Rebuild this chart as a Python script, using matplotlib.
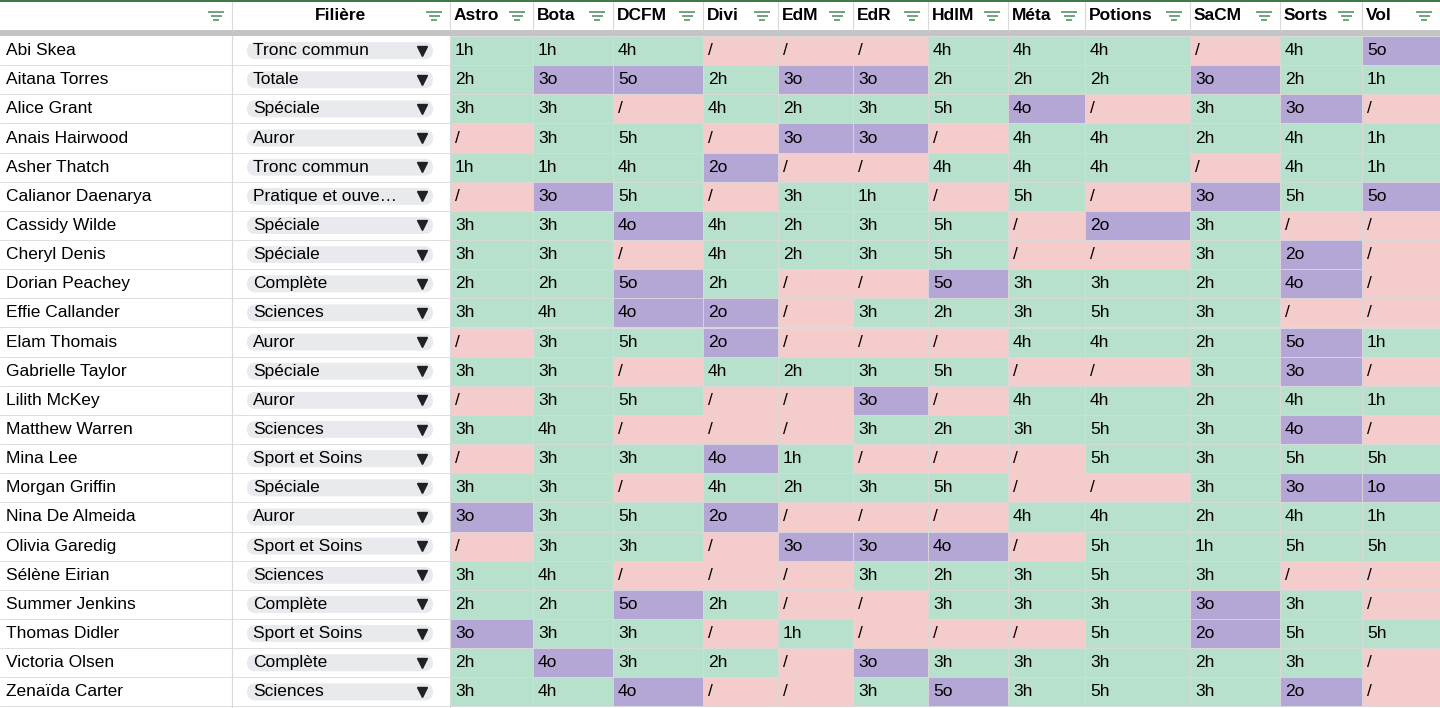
import matplotlib
matplotlib.use("Agg")
import matplotlib.pyplot as plt
from matplotlib.patches import Rectangle, FancyBboxPatch

names = ["Abi Skea","Aitana Torres","Alice Grant","Anais Hairwood","Asher Thatch","Calianor Daenarya",
         "Cassidy Wilde","Cheryl Denis","Dorian Peachey","Effie Callander","Elam Thomais","Gabrielle Taylor",
         "Lilith McKey","Matthew Warren","Mina Lee","Morgan Griffin","Nina De Almeida","Olivia Garedig",
         "Sélène Eirian","Summer Jenkins","Thomas Didler","Victoria Olsen","Zenaïda Carter"]
filieres = ["Tronc commun","Totale","Spéciale","Auror","Tronc commun","Pratique et ouve…","Spéciale","Spéciale",
            "Complète","Sciences","Auror","Spéciale","Auror","Sciences","Sport et Soins","Spéciale","Auror",
            "Sport et Soins","Sciences","Complète","Sport et Soins","Complète","Sciences"]
subjects = ["Astro","Bota","DCFM","Divi","EdM","EdR","HdlM","Méta","Potions","SaCM","Sorts","Vol"]
astro = ["1h","2h","3h","/","1h","/","3h","3h","2h","3h","/","3h","/","3h","/","3h","3o","/","3h","2h","3o","2h","3h"]
bota = ["1h","3o","3h","3h","1h","3o","3h","3h","2h","4h","3h","3h","3h","4h","3h","3h","3h","3h","4h","2h","3h","4o","4h"]
dcfm = ["4h","5o","/","5h","4h","5h","4o","/","5o","4o","5h","/","5h","/","3h","/","5h","3h","/","5o","3h","3h","4o"]
divi = ["/","2h","4h","/","2o","/","4h","4h","2h","2o","2o","4h","/","/","4o","4h","2o","/","/","2h","/","2h","/"]
edm = ["/","3o","2h","3o","/","3h","2h","2h","/","/","/","2h","/","/","1h","2h","/","3o","/","/","1h","/","/"]
edr = ["/","3o","3h","3o","/","1h","3h","3h","/","3h","/","3h","3o","3h","/","3h","/","3o","3h","/","/","3o","3h"]
hdlm = ["4h","2h","5h","/","4h","/","5h","5h","5o","2h","/","5h","/","2h","/","5h","/","4o","2h","3h","/","3h","5o"]
meta = ["4h","2h","4o","4h","4h","5h","/","/","3h","3h","4h","/","4h","3h","/","/","4h","/","3h","3h","/","3h","3h"]
potions = ["4h","2h","/","4h","4h","/","2o","/","3h","5h","4h","/","4h","5h","5h","/","4h","5h","5h","3h","5h","3h","5h"]
sacm = ["/","3o","3h","2h","/","3o","3h","3h","2h","3h","2h","3h","2h","3h","3h","3h","2h","1h","3h","3o","2o","2h","3h"]
sorts = ["4h","2h","3o","4h","4h","5h","/","2o","4o","/","5o","3o","4h","4o","5h","3o","4h","5h","/","3h","5h","3h","2o"]
vol = ["5o","1h","/","1h","1h","5o","/","/","/","/","1h","/","1h","/","5h","1o","1h","5h","/","/","5h","/","/"]
grades = [astro, bota, dcfm, divi, edm, edr, hdlm, meta, potions, sacm, sorts, vol]

col_edges = [0, 232, 450, 533, 613, 703, 778, 853, 928, 1008, 1085, 1190, 1280, 1362, 1440]
header_h = 30
top = 36
row_h = 29.15

GREEN, PINK, PURPLE = "#b7e1cd", "#f4cccc", "#b4a7d6"
GRID = "#d9d9d9"
FONT = ["Liberation Sans", "DejaVu Sans"]

fig = plt.figure(figsize=(14.4, 7.08), dpi=100)
ax = fig.add_axes([0, 0, 1, 1])
ax.set_xlim(0, 1440)
ax.set_ylim(708, 0)
ax.axis("off")

def filt(xr, yc):
    c = "#4a8a5c"
    for w, dy in [(8, -4), (5.5, 0), (3, 4)]:
        ax.plot([xr - w, xr + w], [yc + dy, yc + dy], color=c, lw=1.1, solid_capstyle="butt")

# header
ax.add_patch(Rectangle((0, 0), 1440, 2, color="#3c7a4a", lw=0))
headers = ["", "Filière"] + subjects
for i, h in enumerate(headers):
    x0, x1 = col_edges[i], col_edges[i + 1]
    if i == 1:
        ax.text((x0 + x1) / 2, 16, h, ha="center", va="center", fontsize=12.5, fontweight="bold", family=FONT)
    elif h:
        ax.text(x0 + 4, 16, h, ha="left", va="center", fontsize=12.5, fontweight="bold", family=FONT)
    filt(x1 - 16, 16)
    ax.plot([x1, x1], [2, header_h], color=GRID, lw=0.8)
ax.add_patch(Rectangle((0, header_h), 1440, top - header_h, color="#c4c4c4", lw=0))

for r, name in enumerate(names):
    y0 = top + r * row_h
    yc = y0 + row_h / 2
    ax.text(6, yc, name, ha="left", va="center", fontsize=12.5, family=FONT)
    ax.add_patch(FancyBboxPatch((247, yc - 8.5), 186, 17, boxstyle="round,pad=0,rounding_size=8.5",
                                fc="#e8eaed", ec="none"))
    ax.text(253, yc, filieres[r], ha="left", va="center", fontsize=12.5, family=FONT)
    ax.plot([422], [yc], marker="v", color="#202124", ms=6.5)
    for c, col in enumerate(grades):
        v = col[r]
        fc = GREEN if v.endswith("h") else (PURPLE if v.endswith("o") else PINK)
        x0, x1 = col_edges[c + 2], col_edges[c + 3]
        ax.add_patch(Rectangle((x0, y0), x1 - x0, row_h, fc=fc, ec=GRID, lw=0.6))
        ax.text(x0 + 5, yc, v, ha="left", va="center", fontsize=12.5, family=FONT)
    ax.plot([0, 450], [y0 + row_h, y0 + row_h], color=GRID, lw=0.6)

for x in col_edges[1:3]:
    ax.plot([x, x], [top, 708], color=GRID, lw=0.8)

fig.savefig("out.png", dpi=100)
